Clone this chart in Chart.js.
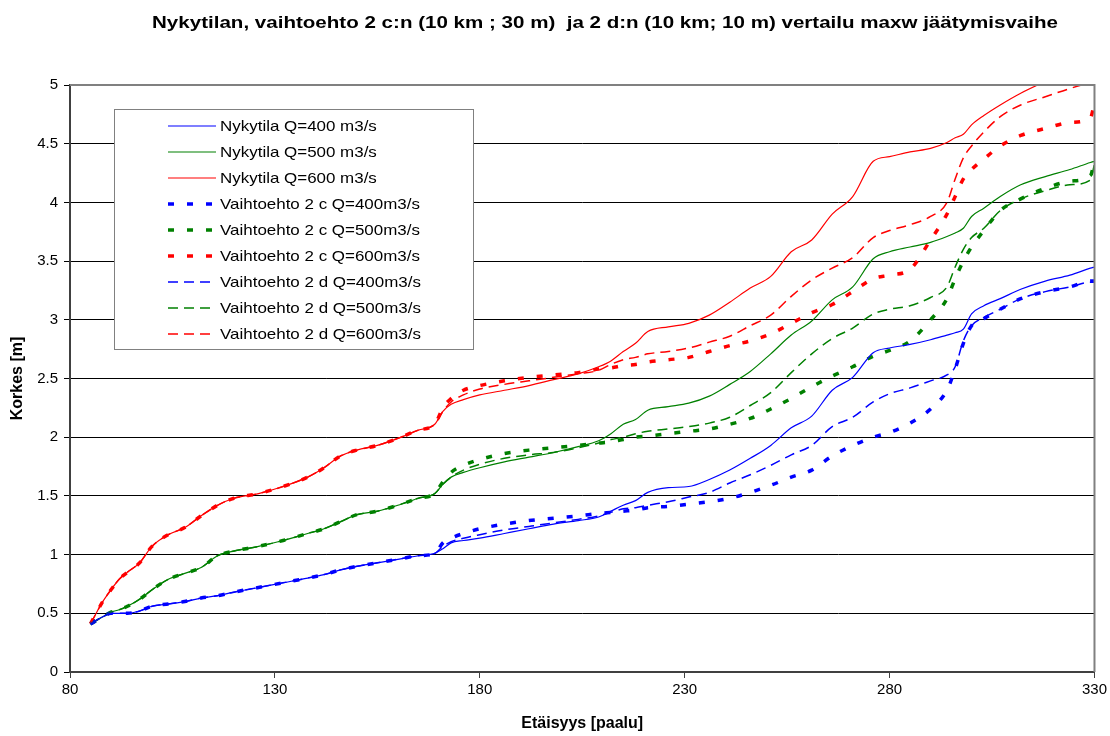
<!DOCTYPE html>
<html>
<head>
<meta charset="utf-8">
<script src="https://cdn.jsdelivr.net/npm/chart.js@4.4.1/dist/chart.umd.min.js"></script>
<style>
  html, body { margin: 0; padding: 0; background: #fff; }
</style>
</head>
<body>
<canvas id="jaaChart" width="1110" height="736"></canvas>
<script>
// Etäisyys (paalu) – yhteinen x-akseli kaikille sarjoille
const distance = [85, 88, 90, 92, 94, 97, 100, 104, 108, 112, 116, 120, 126, 132, 138, 142, 146, 150, 155, 160,
  165, 169, 171, 173, 176, 180, 186, 192, 198, 204, 209, 212, 215, 218, 221, 226, 231, 236, 241, 246,
  251, 256, 261, 266, 271, 276, 280, 285, 290, 294, 296, 298, 300, 303, 307, 312, 318, 324, 329, 330];

// Nykytila
const nyky400 = [0.41, 0.47, 0.50, 0.50, 0.50, 0.52, 0.56, 0.58, 0.60, 0.63, 0.65, 0.68, 0.72, 0.76, 0.80, 0.83, 0.87, 0.90, 0.93, 0.96,
  0.99, 1.01, 1.05, 1.10, 1.12, 1.14, 1.18, 1.22, 1.26, 1.29, 1.32, 1.37, 1.42, 1.46, 1.53, 1.57, 1.58, 1.64, 1.72, 1.82,
  1.93, 2.08, 2.18, 2.40, 2.51, 2.72, 2.76, 2.79, 2.83, 2.87, 2.89, 2.92, 3.05, 3.12, 3.18, 3.26, 3.33, 3.38, 3.44, 3.45];
const nyky500 = [0.41, 0.47, 0.51, 0.53, 0.56, 0.62, 0.70, 0.79, 0.84, 0.89, 0.99, 1.03, 1.07, 1.12, 1.18, 1.22, 1.28, 1.34, 1.37, 1.42,
  1.48, 1.52, 1.60, 1.66, 1.70, 1.74, 1.79, 1.83, 1.87, 1.92, 1.97, 2.03, 2.11, 2.15, 2.23, 2.26, 2.29, 2.35, 2.45, 2.56,
  2.71, 2.87, 2.99, 3.17, 3.28, 3.52, 3.58, 3.62, 3.66, 3.71, 3.74, 3.78, 3.88, 3.95, 4.05, 4.15, 4.22, 4.28, 4.34, 4.35];
const nyky600 = [0.41, 0.60, 0.70, 0.79, 0.85, 0.93, 1.07, 1.17, 1.23, 1.33, 1.42, 1.48, 1.52, 1.58, 1.66, 1.74, 1.84, 1.89, 1.93, 1.99,
  2.06, 2.11, 2.22, 2.28, 2.32, 2.36, 2.40, 2.44, 2.49, 2.54, 2.60, 2.65, 2.73, 2.80, 2.90, 2.94, 2.97, 3.04, 3.15, 3.27,
  3.37, 3.58, 3.68, 3.90, 4.05, 4.35, 4.39, 4.43, 4.46, 4.51, 4.55, 4.58, 4.66, 4.74, 4.83, 4.93, 5.03, 5.12, 5.18, 5.20];

// Vaihtoehto 2 c
const alt2c400 = [0.41, 0.47, 0.50, 0.50, 0.50, 0.52, 0.56, 0.58, 0.60, 0.63, 0.65, 0.68, 0.72, 0.76, 0.80, 0.83, 0.87, 0.90, 0.93, 0.96,
  0.99, 1.01, 1.10, 1.14, 1.18, 1.22, 1.26, 1.29, 1.31, 1.33, 1.35, 1.36, 1.37, 1.38, 1.40, 1.41, 1.43, 1.45, 1.48, 1.53,
  1.59, 1.66, 1.72, 1.84, 1.93, 2.00, 2.04, 2.12, 2.24, 2.40, 2.58, 2.80, 2.95, 3.01, 3.09, 3.18, 3.24, 3.28, 3.33, 3.33];
const alt2c500 = [0.41, 0.47, 0.51, 0.53, 0.56, 0.62, 0.70, 0.79, 0.84, 0.89, 0.99, 1.03, 1.07, 1.12, 1.18, 1.22, 1.28, 1.34, 1.37, 1.42,
  1.48, 1.52, 1.62, 1.70, 1.76, 1.81, 1.86, 1.89, 1.91, 1.93, 1.95, 1.96, 1.98, 2.00, 2.01, 2.03, 2.05, 2.07, 2.11, 2.16,
  2.24, 2.33, 2.43, 2.52, 2.60, 2.69, 2.74, 2.82, 3.00, 3.18, 3.35, 3.50, 3.62, 3.76, 3.93, 4.03, 4.12, 4.18, 4.23, 4.35];
const alt2c600 = [0.41, 0.60, 0.70, 0.79, 0.85, 0.93, 1.07, 1.17, 1.23, 1.33, 1.42, 1.48, 1.52, 1.58, 1.66, 1.74, 1.84, 1.89, 1.93, 1.99,
  2.06, 2.11, 2.25, 2.33, 2.40, 2.44, 2.48, 2.51, 2.53, 2.55, 2.58, 2.59, 2.61, 2.62, 2.64, 2.66, 2.68, 2.73, 2.78, 2.82,
  2.88, 2.97, 3.06, 3.13, 3.24, 3.35, 3.38, 3.43, 3.68, 3.90, 4.05, 4.20, 4.28, 4.37, 4.48, 4.57, 4.63, 4.68, 4.72, 4.85];

// Vaihtoehto 2 d
const alt2d400 = [0.41, 0.47, 0.50, 0.50, 0.50, 0.52, 0.56, 0.58, 0.60, 0.63, 0.65, 0.68, 0.72, 0.76, 0.80, 0.83, 0.87, 0.90, 0.93, 0.96,
  0.99, 1.01, 1.07, 1.11, 1.14, 1.17, 1.21, 1.24, 1.27, 1.30, 1.33, 1.36, 1.39, 1.40, 1.42, 1.45, 1.49, 1.53, 1.61, 1.68,
  1.76, 1.85, 1.93, 2.09, 2.17, 2.30, 2.37, 2.42, 2.48, 2.53, 2.60, 2.82, 2.95, 3.02, 3.09, 3.18, 3.24, 3.28, 3.32, 3.32];
const alt2d500 = [0.41, 0.47, 0.51, 0.53, 0.56, 0.62, 0.70, 0.79, 0.84, 0.89, 0.99, 1.03, 1.07, 1.12, 1.18, 1.22, 1.28, 1.34, 1.37, 1.42,
  1.48, 1.52, 1.60, 1.66, 1.72, 1.77, 1.82, 1.85, 1.87, 1.91, 1.95, 1.98, 2.00, 2.03, 2.05, 2.07, 2.09, 2.12, 2.17, 2.27,
  2.38, 2.55, 2.71, 2.84, 2.93, 3.05, 3.09, 3.12, 3.19, 3.28, 3.45, 3.60, 3.70, 3.78, 3.93, 4.03, 4.10, 4.15, 4.19, 4.33];
const alt2d600 = [0.41, 0.60, 0.70, 0.79, 0.85, 0.93, 1.07, 1.17, 1.23, 1.33, 1.42, 1.48, 1.52, 1.58, 1.66, 1.74, 1.84, 1.89, 1.93, 1.99,
  2.06, 2.11, 2.22, 2.30, 2.36, 2.41, 2.45, 2.48, 2.51, 2.54, 2.57, 2.62, 2.66, 2.68, 2.71, 2.73, 2.76, 2.81, 2.86, 2.95,
  3.04, 3.20, 3.34, 3.44, 3.53, 3.70, 3.76, 3.81, 3.88, 4.00, 4.20, 4.38, 4.48, 4.60, 4.73, 4.83, 4.90, 4.97, 5.02, 5.03];

const seriesNames = [
  'Nykytila Q=400 m3/s', 'Nykytila Q=500 m3/s', 'Nykytila Q=600 m3/s',
  'Vaihtoehto 2 c Q=400m3/s', 'Vaihtoehto 2 c Q=500m3/s', 'Vaihtoehto 2 c Q=600m3/s',
  'Vaihtoehto 2 d Q=400m3/s', 'Vaihtoehto 2 d Q=500m3/s', 'Vaihtoehto 2 d Q=600m3/s'
];
const seriesValues = [nyky400, nyky500, nyky600, alt2c400, alt2c500, alt2c600, alt2d400, alt2d500, alt2d600];
const yTicks = [0, 0.5, 1, 1.5, 2, 2.5, 3, 3.5, 4, 4.5, 5];
const chartTitle = 'Nykytilan, vaihtoehto 2 c:n (10 km ; 30 m)  ja 2 d:n (10 km; 10 m) vertailu maxw jäätymisvaihe';

const FONT = '"Liberation Sans", Arial, sans-serif';
const colors = ['#0000ff', '#008000', '#ff0000'];
const styles = [
  { borderWidth: 1.2, borderDash: [] },
  { borderWidth: 3.5, borderDash: [6, 13] },
  { borderWidth: 1.5, borderDash: [10, 6] }
];

const datasets = seriesValues.map((vals, i) => {
  const st = styles[Math.floor(i / 3)];
  return {
    label: seriesNames[i],
    data: vals.map((v, j) => ({ x: distance[j], y: v })),
    borderColor: colors[i % 3],
    backgroundColor: colors[i % 3],
    borderWidth: st.borderWidth,
    borderDash: st.borderDash,
    borderCapStyle: 'butt',
    pointRadius: 0,
    cubicInterpolationMode: 'monotone',
    fill: false
  };
});

// leveytetty teksti: venytetään vaakasuunnassa annettuun leveyteen
function wideText(ctx, text, x, y, width) {
  const w = ctx.measureText(text).width;
  ctx.save();
  ctx.translate(x, y);
  ctx.scale(width / w, 1);
  ctx.fillText(text, 0, 0);
  ctx.restore();
}

// otsikko, kehys ja selite piirretään itse
const decorations = {
  id: 'decorations',
  afterDatasetsDraw(chart) {
    const { ctx, chartArea: a } = chart;
    ctx.save();
    ctx.strokeStyle = '#808080';
    ctx.lineWidth = 2;
    ctx.beginPath();
    ctx.moveTo(a.left, a.top);
    ctx.lineTo(a.right, a.top);
    ctx.lineTo(a.right, a.bottom);
    ctx.stroke();
    ctx.restore();
  },
  afterDraw(chart) {
    const ctx = chart.ctx;
    ctx.save();
    ctx.fillStyle = '#000';
    ctx.font = 'bold 17px ' + FONT;
    ctx.textAlign = 'left';
    ctx.textBaseline = 'middle';
    wideText(ctx, chartTitle, 152, 23, 906);

    // selite
    const bx = 114, by = 109, bw = 359, bh = 240;
    ctx.fillStyle = '#fff';
    ctx.fillRect(bx, by, bw, bh);
    ctx.strokeStyle = '#808080';
    ctx.lineWidth = 1;
    ctx.strokeRect(bx + 0.5, by + 0.5, bw, bh);
    ctx.font = '15px ' + FONT;
    chart.data.datasets.forEach((ds, i) => {
      const y = 126 + i * 26;
      ctx.strokeStyle = ds.borderColor;
      ctx.lineWidth = ds.borderWidth;
      ctx.setLineDash(ds.borderDash);
      ctx.beginPath();
      ctx.moveTo(168, y);
      ctx.lineTo(216, y);
      ctx.stroke();
      ctx.setLineDash([]);
      ctx.fillStyle = '#000';
      const w = ctx.measureText(ds.label).width;
      wideText(ctx, ds.label, 220, y + 1, w * 1.13);
    });
    ctx.restore();
  }
};

new Chart(document.getElementById('jaaChart'), {
  type: 'line',
  data: { datasets: datasets },
  plugins: [decorations],
  options: {
    responsive: false,
    animation: false,
    devicePixelRatio: 1,
    layout: { padding: { top: 85, right: 15, bottom: 3, left: 0 } },
    plugins: {
      legend: { display: false },
      tooltip: { enabled: false }
    },
    scales: {
      x: {
        type: 'linear',
        min: 80,
        max: 330,
        afterFit(scale) { scale.height = 61; },
        ticks: { stepSize: 50, color: '#000', padding: 3, font: { family: FONT, size: 15 } },
        grid: { drawOnChartArea: false, drawTicks: true, tickLength: 6, color: '#404040' },
        border: { color: '#404040', width: 2 },
        title: { display: true, text: 'Etäisyys [paalu]', color: '#000', padding: { top: 4, bottom: 0 },
                 font: { family: FONT, size: 16, weight: 'bold' } }
      },
      y: {
        min: 0,
        max: 5,
        afterFit(scale) { scale.width = 70; },
        afterBuildTicks(scale) { scale.ticks = yTicks.map(v => ({ value: v })); },
        ticks: { color: '#000', padding: 6, font: { family: FONT, size: 15 }, callback: v => String(v) },
        grid: { color: '#000', lineWidth: 1, drawTicks: true, tickLength: 6 },
        border: { color: '#404040', width: 2 },
        title: { display: true, text: 'Korkes [m]', color: '#000', padding: { top: 8, bottom: 0 },
                 font: { family: FONT, size: 16, weight: 'bold' } }
      }
    }
  }
});
</script>
</body>
</html>
